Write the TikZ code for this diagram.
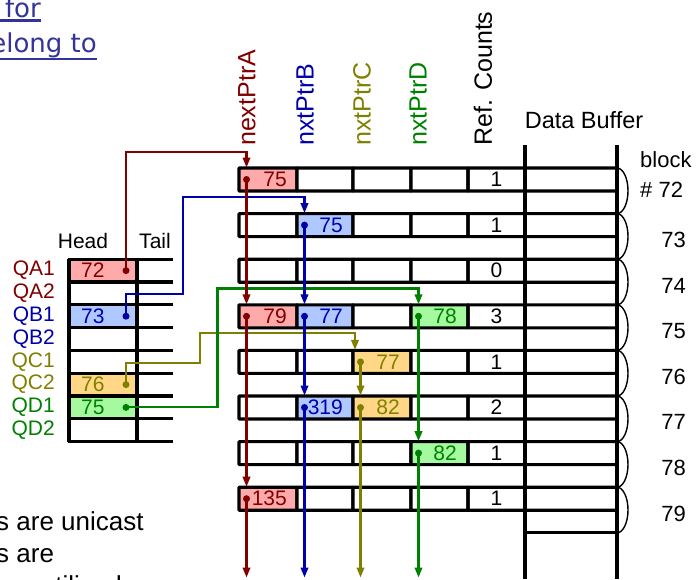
\documentclass[tikz,border=0pt]{standalone}
\usepackage{fontspec}
\setmainfont{Liberation Sans}
\newfontfamily\linkfont{DejaVu Sans}
\usetikzlibrary{arrows.meta}

\definecolor{cA}{RGB}{128,0,0}
\definecolor{cB}{RGB}{0,0,170}
\definecolor{cC}{RGB}{128,128,0}
\definecolor{cD}{RGB}{0,128,0}
\definecolor{fA}{RGB}{255,170,170}
\definecolor{fB}{RGB}{175,200,255}
\definecolor{fC}{RGB}{255,215,135}
\definecolor{fD}{RGB}{165,250,160}
\definecolor{linkc}{RGB}{51,51,153}

\begin{document}
\begin{tikzpicture}[x=1pt,y=-1pt,
  cell/.style={draw=black, line width=3.1pt, rounded corners=0.6pt, minimum height=23pt,
    inner sep=0pt, outer sep=0pt, anchor=north west},
  qcell/.style={minimum width=68pt, minimum height=22.8pt, inner sep=0pt,
    outer sep=0pt, anchor=north west},
  tbl/.style={line width=3.1pt},
  cellnum/.style={inner sep=0pt, font=\fontsize{21}{24}\selectfont},
  qlab/.style={inner sep=0pt, anchor=east, font=\fontsize{21}{24}\selectfont},
  hdr/.style={inner sep=0pt, anchor=west, rotate=90, font=\fontsize{25}{28}\selectfont},
  txt/.style={inner sep=0pt, font=\fontsize{22}{26}\selectfont},
  ptr/.style={line width=2.1pt, -{Triangle[length=10pt,width=7.5pt]}, shorten >=0.5pt},
  arcline/.style={line width=1.4pt}
]
\useasboundingbox (0,0) rectangle (699,579);
\fill[white] (0,0) rectangle (699,579);

% ---- link text at the top left
\node[inner sep=0pt, anchor=base east, text=linkc, font=\linkfont\fontsize{26}{30}\selectfont]
  (lnk1) at (41,17) {for};
\node[inner sep=0pt, anchor=base east, text=linkc, font=\linkfont\fontsize{26}{30}\selectfont]
  (lnk2) at (97,52) {elong to};
\draw[linkc, line width=2.4pt] ([yshift=-3.5pt]lnk1.base east) -- ++(-45,0);
\draw[linkc, line width=2.4pt] ([yshift=-7pt]lnk2.base east) -- ++(-102,0);

% ---- explanatory text at the bottom left
\node[txt, anchor=base west, font=\fontsize{26}{30}\selectfont] (note1) at (-4,530) {s are unicast};
\node[txt, anchor=base west, font=\fontsize{26}{30}\selectfont] (note2) at (-4,562) {s are};
\node[txt, anchor=base west, font=\fontsize{26}{30}\selectfont] (note3) at (-4,594) {are utilized};

% ---- column headers
\node[hdr, text=cA] (hdA) at (247,146) {nextPtrA};
\node[hdr, text=cB] (hdB) at (305,146) {nxtPtrB};
\node[hdr, text=cC] (hdC) at (362,146) {nxtPtrC};
\node[hdr, text=cD] (hdD) at (418,146) {nxtPtrD};
\node[hdr] (hdR) at (483,146) {Ref. Counts};
\node[txt, anchor=base, font=\fontsize{23.5}{27}\selectfont] (hdBuf) at (584,128) {Data Buffer};

% ---- pointer table rows, reference counts and buffer blocks
\foreach \i/\rc/\fa/\fb/\fc/\fd in {
   1/1/fA/white/white/white,
   2/1/white/fB/white/white,
   3/0/white/white/white/white,
   4/3/fA/fB/white/fD,
   5/1/white/white/fC/white,
   6/2/white/fB/fC/white,
   7/1/white/white/white/fD,
   8/1/fA/white/white/white}{
  \pgfmathsetmacro\yt{168+(\i-1)*45.6}
  \node[cell, fill=\fa, minimum width=58pt] (a\i) at (239,\yt) {};
  \node[cell, fill=\fb, minimum width=56pt] (b\i) at (297,\yt) {};
  \node[cell, fill=\fc, minimum width=58pt] (c\i) at (353,\yt) {};
  \node[cell, fill=\fd, minimum width=57pt] (d\i) at (411,\yt) {};
  \node[cell, minimum width=57pt] (r\i) at (468,\yt) {};
  \node[cell, minimum width=92pt] (m\i) at (525,\yt) {};
  \node[cellnum] (n\i) at (r\i.center) {\rc};
  \coordinate (pa\i) at ([xshift=7.5pt]a\i.west);
  \coordinate (pb\i) at ([xshift=7.5pt]b\i.west);
  \coordinate (pc\i) at ([xshift=7.5pt]c\i.west);
  \coordinate (pd\i) at ([xshift=7.5pt]d\i.west);
}

% buffer frame
\draw[tbl] (525,145) -- (525,579);
\draw[tbl] (617,145) -- (617,579);
\draw[tbl] (525,532.8) -- (617,532.8);
\foreach \i in {0,...,7}
  \draw[arcline] (617,{168+45.6*\i}) arc[start angle=90, end angle=-90, x radius=11pt, y radius=22.8pt];

% block numbers
\node[txt, anchor=base west] (blk) at (640,167) {block};
\node[txt, anchor=base west] (b72) at (640,197) {\# 72};
\foreach \k [count=\j from 0] in {73,74,75,76,77,78,79}
  \node[txt, anchor=base east] (b\k) at (686,{247.5+45.6*\j}) {\k};

% values in the pointer cells
\node[cellnum, text=cA, anchor=east] (va1) at ([xshift=-10pt]a1.east) {75};
\node[cellnum, text=cB, anchor=east] (vb2) at ([xshift=-10pt]b2.east) {75};
\node[cellnum, text=cA, anchor=east] (va4) at ([xshift=-10pt]a4.east) {79};
\node[cellnum, text=cB, anchor=east] (vb4) at ([xshift=-10pt]b4.east) {77};
\node[cellnum, text=cD, anchor=east] (vd4) at ([xshift=-11pt]d4.east) {78};
\node[cellnum, text=cC, anchor=east] (vc5) at ([xshift=-11pt]c5.east) {77};
\node[cellnum, text=cB, anchor=east] (vb6) at ([xshift=-10pt]b6.east) {319};
\node[cellnum, text=cC, anchor=east] (vc6) at ([xshift=-11pt]c6.east) {82};
\node[cellnum, text=cD, anchor=east] (vd7) at ([xshift=-11pt]d7.east) {82};
\node[cellnum, text=cA, anchor=east] (va8) at ([xshift=-10pt]a8.east) {135};

% ---- queue head/tail table
\foreach \k/\f in {1/fA,2/white,3/fB,4/white,5/white,6/fC,7/fD,8/white}{
  \node[qcell, fill=\f] (h\k) at (69,{259.2+22.8*(\k-1)}) {};
  \coordinate (qp\k) at ([xshift=-11pt]h\k.east);
}
\draw[tbl] (69,259.2) -- (69,441.6);
\draw[tbl] (137,259.2) -- (137,441.6);
\foreach \k in {0,...,8}
  \draw[tbl] (67.5,{259.2+22.8*\k}) -- (173,{259.2+22.8*\k});

\node[txt, anchor=base, font=\fontsize{21}{24}\selectfont] (head) at (83,248) {Head};
\node[txt, anchor=base, font=\fontsize{21}{24}\selectfont] (tail) at (155,248) {Tail};

\foreach \k/\n/\c in {1/QA1/cA,2/QA2/cA,3/QB1/cB,4/QB2/cB,5/QC1/cC,6/QC2/cC,7/QD1/cD,8/QD2/cD}
  \node[qlab, text=\c] (q\k) at ([xshift=-14pt]h\k.west) {\n};

\node[cellnum, text=cA, anchor=west] (hv1) at ([xshift=12pt]h1.west) {72};
\node[cellnum, text=cB, anchor=west] (hv3) at ([xshift=12pt]h3.west) {73};
\node[cellnum, text=cC, anchor=west] (hv6) at ([xshift=12pt]h6.west) {76};
\node[cellnum, text=cD, anchor=west] (hv7) at ([xshift=12pt]h7.west) {75};

% ---- bend points and free ends of the pointer links
\coordinate (bA) at (126,152);
\coordinate (bB1) at (183,294);
\coordinate (bB2) at (183,197);
\coordinate (bC1) at (200,362.7);
\coordinate (bC2) at (200,333);
\coordinate (xC) at (355,0);
\coordinate (bD) at (217.5,288.5);
\coordinate (endA) at (246.5,578);
\coordinate (endB) at (304.5,578);
\coordinate (endC) at (360.5,578);
\coordinate (endD) at (418.5,578);

% ---- queue heads to first blocks
\draw[ptr, cA] (qp1) -- (bA) -| (a1.north -| pa1);
\draw[ptr, cB] (qp3) |- (bB1) -- (bB2) -| (b2.north -| pb2);
\draw[ptr, cC] (qp6) |- (bC1) -- (bC2) -| (c5.north -| xC);
\draw[ptr, cD] (qp7) -| (bD) -| (d4.north -| pd4);

% ---- next pointers between blocks
\draw[ptr, cA] (pa1) -- (a4.north -| pa1);
\draw[ptr, cA] (pa4) -- (a8.north -| pa4);
\draw[ptr, cA] (pa8) -- (endA);
\draw[ptr, cB] (pb2) -- (b4.north -| pb2);
\draw[ptr, cB] (pb4) -- (b6.north -| pb4);
\draw[ptr, cB] (pb6) -- (endB);
\draw[ptr, cC] (pc5) -- (c6.north -| pc5);
\draw[ptr, cC] (pc6) -- (endC);
\draw[ptr, cD] (pd4) -- (d7.north -| pd4);
\draw[ptr, cD] (pd7) -- (endD);

% ---- pointer dots
\foreach \p in {pa1,pa4,pa8,qp1} \fill[cA] (\p) circle[radius=3.5pt];
\foreach \p in {pb2,pb4,pb6,qp3} \fill[cB] (\p) circle[radius=3.5pt];
\foreach \p in {pc5,pc6,qp6} \fill[cC] (\p) circle[radius=3.5pt];
\foreach \p in {pd4,pd7,qp7} \fill[cD] (\p) circle[radius=3.5pt];
\end{tikzpicture}
\end{document}
